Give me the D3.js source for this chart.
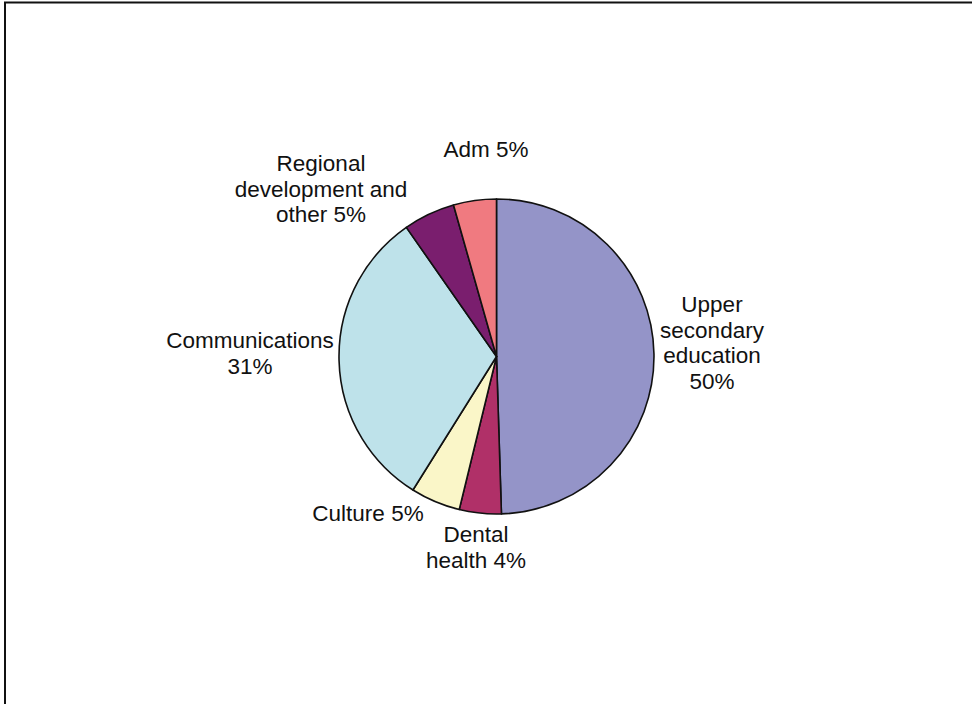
<!DOCTYPE html>
<html>
<head>
<meta charset="utf-8">
<script src="https://cdn.jsdelivr.net/npm/d3@7"></script>
<style>
  html, body { margin: 0; padding: 0; background: #fff; }
  svg { display: block; }
  text { font-family: "Liberation Sans", Arial, sans-serif; fill: #111; }
</style>
</head>
<body>
<svg id="chart" width="972" height="704"></svg>
<script>
// ---- data ----
const categories = ["Upper secondary education", "Dental health", "Culture", "Communications", "Regional development and other", "Adm"];
const values = [49.5, 4.3, 5.1, 31.4, 5.3, 4.4];
const colors = ["#9494C8", "#B03068", "#FAF6C8", "#BEE2EA", "#7A1E6E", "#F07A80"];
const labelLines = [
  ["Upper", "secondary", "education", "50%"],
  ["Dental", "health 4%"],
  ["Culture 5%"],
  ["Communications", "31%"],
  ["Regional", "development and", "other 5%"],
  ["Adm 5%"]
];

// ---- layout ----
const W = 972, H = 704;
const cx = 496.5, cy = 356.5, R = 157.5;
// label anchor points (centre x, first baseline y)
const labelPos = [[712, 312], [476, 542], [368, 521], [250, 348], [321, 171], [486, 157]];
const lineH = 25.5;

const svg = d3.select("#chart");
svg.append("rect").attr("width", W).attr("height", H).attr("fill", "#fff");

// frame
svg.append("path")
  .attr("d", `M${5},${H + 2} L${5},${2.5} L${W + 2},${2.5}`)
  .attr("fill", "none").attr("stroke", "#111").attr("stroke-width", 2);

const data = categories.map((c, i) => ({ name: c, value: values[i], color: colors[i], lines: labelLines[i], pos: labelPos[i] }));

const pie = d3.pie().value(d => d.value).sort(null).startAngle(0).endAngle(2 * Math.PI);
const arc = d3.arc().innerRadius(0).outerRadius(R);

const g = svg.append("g").attr("transform", `translate(${cx},${cy})`);
g.selectAll("path.slice")
  .data(pie(data))
  .join("path")
  .attr("class", "slice")
  .attr("d", arc)
  .attr("fill", d => d.data.color)
  .attr("stroke", "#111")
  .attr("stroke-width", 1.6)
  .attr("stroke-linejoin", "round");

// labels
const lg = svg.append("g");
data.forEach(d => {
  const t = lg.append("text")
    .attr("text-anchor", "middle")
    .style("font-size", "22.5px");
  d.lines.forEach((ln, j) => {
    t.append("tspan")
      .attr("x", d.pos[0])
      .attr("y", d.pos[1] + j * lineH)
      .text(ln);
  });
});
</script>
</body>
</html>
